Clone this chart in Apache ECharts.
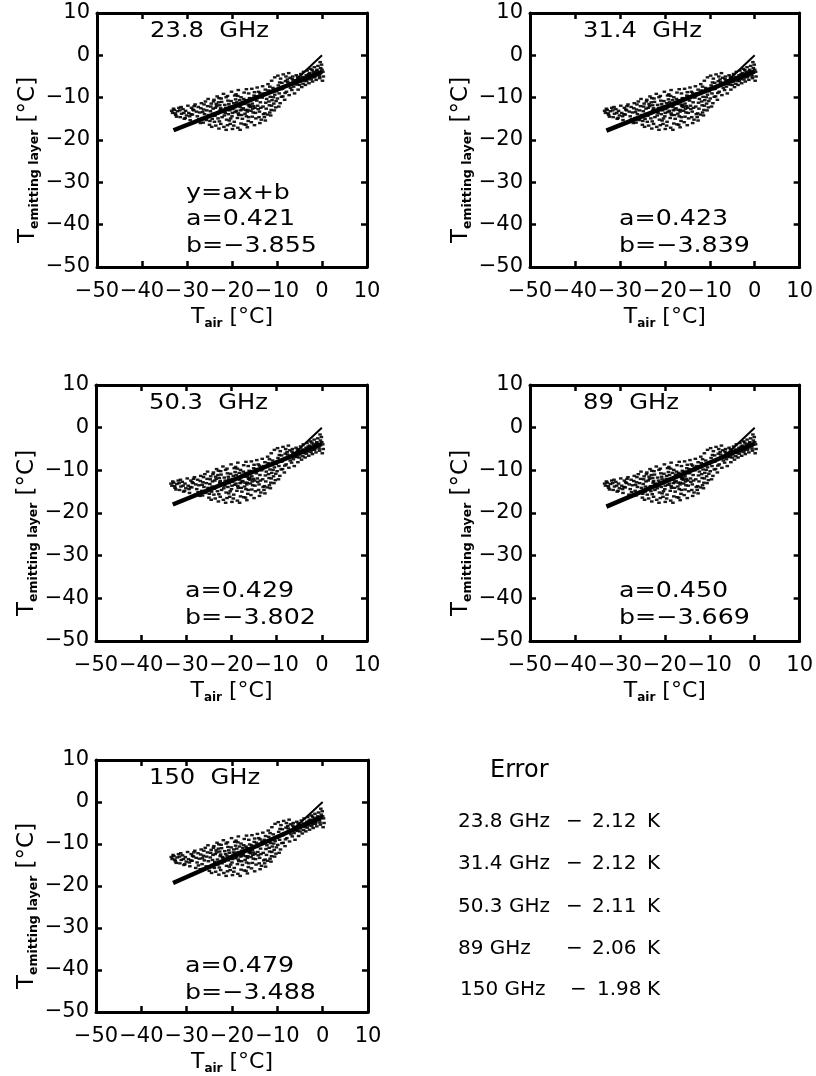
<!DOCTYPE html>
<html><head><meta charset="utf-8">
<script src="https://cdn.jsdelivr.net/npm/echarts@6/dist/echarts.min.js"></script>
<style>html,body{margin:0;padding:0;background:#fff}#c{width:816px;height:1076px}</style>
</head><body><div id="c"></div><script>
// ---------------- data ----------------
const freqs = ['23.8  GHz', '31.4  GHz', '50.3  GHz', '89  GHz', '150  GHz'];
const slopes = ['0.421', '0.423', '0.429', '0.450', '0.479'];
const intercepts = ['−3.855', '−3.839', '−3.802', '−3.669', '−3.488'];
const errorFreqs = ['23.8 GHz', '31.4 GHz', '50.3 GHz', '89 GHz', '150 GHz'];
const errorValues = ['2.12', '2.12', '2.11', '2.06', '1.98'];
const axisMin = -50, axisMax = 10, axisStep = 10;
const fitX = [-33, 0];
const fitY = [[-17.7, -3.9], [-17.8, -3.8], [-18.0, -3.8], [-18.5, -3.7], [-19.3, -3.5]];
const refX = [-6, 0];
const refY = [-6, 0];
// scatter cloud (T_air, T_emitting layer)
const cloud = [
[-33.2,-13.6],[-32.8,-12.9],[-32.5,-14.1],[-32.1,-13.2],[-31.8,-12.4],[-31.5,-14.6],[-31.2,-13.8],[-30.9,-12.7],[-30.6,-15.0],[-30.3,-13.1],[-30.1,-14.2],[-29.8,-11.9],
[-29.6,-13.6],[-29.3,-15.3],[-29.0,-12.4],[-28.8,-14.0],[-28.5,-13.0],[-28.2,-11.6],[-28.0,-15.7],[-27.7,-14.4],[-27.5,-12.2],[-27.2,-13.5],[-27.0,-16.0],[-26.8,-11.3],[-26.6,-14.8],[-26.3,-12.8],[-26.1,-13.9],[-25.9,-10.9],[-25.7,-15.3],[-25.4,-12.0],[-25.2,-14.1],[-25.0,-16.4],
[-24.8,-13.2],[-24.6,-11.4],[-24.4,-15.0],[-24.2,-12.6],[-24.0,-10.5],[-23.8,-14.3],[-23.6,-16.6],[-23.4,-12.0],[-23.2,-13.7],[-23.0,-11.1],[-22.8,-15.6],[-22.6,-12.9],[-22.4,-10.2],[-22.2,-14.6],[-22.0,-13.3],[-21.8,-16.9],[-21.6,-11.7],[-21.4,-12.4],[-21.2,-15.2],[-21.0,-9.6],[-20.8,-13.9],[-20.6,-12.1],[-20.4,-16.2],[-20.2,-10.8],[-20.0,-14.4],
[-19.8,-12.7],[-19.6,-11.3],[-19.5,-15.7],[-19.3,-13.4],[-19.1,-9.2],[-18.9,-12.0],[-18.7,-17.1],[-18.5,-14.1],[-18.3,-10.6],[-18.1,-13.0],[-17.9,-11.6],[-17.7,-15.0],[-17.5,-12.5],[-17.3,-8.8],[-17.1,-13.8],[-16.9,-16.4],[-16.7,-11.0],[-16.5,-12.9],[-16.3,-14.6],[-16.1,-10.1],[-15.9,-12.2],[-15.7,-15.8],[-15.5,-11.4],[-15.3,-13.5],[-15.1,-9.5],
[-19.7,-12.0],[-19.0,-13.1],[-18.4,-11.9],[-17.8,-12.8],[-17.2,-11.5],[-16.6,-13.3],[-16.0,-11.8],[-15.4,-12.6],[-20.5,-13.0],[-21.5,-13.6],[-22.5,-12.5],[-18.8,-14.8],[-17.4,-10.3],[-16.2,-12.0],
[-14.9,-12.4],[-14.7,-14.9],[-14.5,-10.7],[-14.3,-11.9],[-14.1,-8.6],[-13.9,-13.3],[-13.7,-11.1],[-13.5,-15.2],[-13.3,-10.0],[-13.1,-12.1],[-12.9,-9.0],[-12.7,-13.7],[-12.5,-11.2],[-12.3,-10.3],[-12.1,-14.0],[-11.9,-8.3],[-11.7,-11.8],[-11.5,-9.8],[-11.3,-12.9],[-11.1,-10.6],[-10.9,-7.7],[-10.7,-11.4],[-10.5,-9.3],[-10.3,-12.3],[-10.1,-8.5],
[-9.9,-10.2],[-9.7,-7.1],[-9.5,-9.0],[-9.3,-11.3],[-9.1,-8.0],[-8.9,-6.5],[-8.7,-9.7],[-8.5,-7.5],[-8.3,-10.5],[-8.1,-6.1],[-7.9,-8.6],[-7.7,-5.7],[-7.5,-7.0],[-7.3,-9.4],[-7.1,-5.3],[-6.9,-6.6],[-6.7,-8.2],[-6.5,-5.0],[-6.3,-7.4],[-6.1,-9.0],[-5.9,-5.9],[-5.7,-4.7],[-5.5,-6.9],[-5.3,-8.1],[-5.1,-5.4],
[-4.9,-6.3],[-4.7,-4.4],[-4.5,-7.5],[-4.3,-5.1],[-4.1,-3.9],[-3.9,-6.0],[-3.7,-7.0],[-3.5,-4.7],[-3.3,-3.6],[-3.1,-5.6],[-2.9,-6.6],[-2.7,-4.2],[-2.5,-3.2],[-2.3,-5.2],[-2.1,-6.2],[-1.9,-3.9],[-1.7,-2.8],[-1.5,-4.8],[-1.3,-5.8],[-1.1,-3.4],[-0.9,-2.5],[-0.7,-4.4],[-0.5,-5.4],[-0.3,-3.0],[-0.1,-2.2],[0.2,-3.9],[0.3,-5.0],
[-10.5,-5.2],[-9.8,-4.8],[-9.2,-5.5],[-8.6,-4.5],[-8.0,-5.0],[-7.4,-4.2],[-11.2,-6.0],[-12.0,-6.8],
[-24.5,-16.9],[-22.9,-17.3],[-21.3,-17.6],[-19.9,-17.4],[-18.2,-17.6],[-16.6,-17.0],[-15.0,-16.5],[-13.8,-16.0],[-12.6,-15.4],[-11.4,-14.2],
[-25.3,-10.3],[-23.3,-9.7],[-21.9,-9.1],[-20.1,-8.6],[-18.6,-8.2],[-16.8,-8.0],[-15.6,-7.9],[-14.4,-7.6],[-13.2,-7.3],
[-24.3,-13.8],[-23.7,-12.4],[-23.1,-14.9],[-22.7,-11.8],[-22.1,-13.1],[-21.7,-14.2],[-21.1,-12.8],[-20.7,-11.5],[-20.3,-14.9],[-19.9,-13.6],[-19.4,-12.3],[-18.95,-11.1],[-18.6,-13.7],[-18.2,-12.2],[-17.85,-14.1],[-17.6,-11.0],[-17.0,-12.9],[-16.8,-14.4],[-16.4,-11.6],[-15.8,-13.1],[-15.2,-12.0],[-14.8,-13.6],[-14.2,-12.7],[-13.6,-12.4],[-13.0,-13.9],[-12.4,-12.6],[-11.8,-10.9],[-11.2,-11.9],[-19.2,-10.4],[-18.0,-9.9],[-16.9,-10.6],[-15.7,-10.3],[-14.6,-9.7],[-13.4,-9.4],[-20.9,-10.7],[-22.3,-11.0],[-23.5,-11.5],[-24.7,-12.1],[-25.6,-13.0],[-26.9,-12.5],[-27.9,-13.3],[-28.7,-12.8],[-29.4,-14.4],[-30.7,-13.6],[-31.6,-13.0],[-32.3,-14.5],[-33.0,-12.6],
[-23.9,-15.7],[-22.5,-16.2],[-21.0,-16.5],[-19.6,-16.6],[-18.0,-16.1],[-16.4,-15.5],[-15.5,-14.5],[-14.0,-14.6],[-12.8,-14.6],[-11.6,-13.5],[-10.6,-13.0],[-9.6,-12.1],[-26.4,-15.9],[-24.9,-15.5],[-20.6,-15.4],[-17.3,-16.3],
[-26.2,-11.6],[-24.1,-10.9],[-22.9,-10.1],[-21.3,-9.9],[-19.4,-9.5],[-18.7,-9.6],[-16.3,-9.0],[-15.0,-8.7],[-13.8,-8.9],[-12.6,-8.1],[-11.6,-7.4],
[-9.4,-6.4],[-8.8,-7.9],[-8.2,-8.9],[-7.6,-6.3],[-7.0,-7.7],[-6.6,-5.6],[-6.0,-6.8],[-5.4,-5.1],[-4.8,-5.6],[-4.2,-6.7],[-3.6,-5.3],[-3.0,-4.4],[-2.4,-5.7],[-1.8,-4.5],[-1.2,-3.7],[-0.6,-4.9],[0.0,-3.4],[-9.0,-9.8],[-10.2,-10.8],[-10.8,-9.9],[-6.4,-6.0],[-5.0,-7.0],[-3.4,-6.1],[-1.6,-5.2],[0.1,-6.0],[-0.4,-1.6],[-2.2,-3.5],
[-33.4,-13.1],[-32.6,-13.7],[-31.3,-12.2],[-30.4,-14.8],[-29.1,-13.9],[-28.4,-12.0],[-27.4,-15.1],[-26.5,-13.4]
];

// ---------------- layout ----------------
const F = 'DejaVu Sans';
const panels = [
  {left: 97,  top: 13,  width: 270, height: 254, eq: true},
  {left: 530, top: 13,  width: 272, height: 254},
  {left: 96,  top: 385, width: 271, height: 256},
  {left: 530, top: 385, width: 272, height: 256},
  {left: 96,  top: 760, width: 272, height: 256}
];
const minus = v => String(v).replace('-', '−');
const grids = [], xAxes = [], yAxes = [], series = [], graphics = [];
const baseAxis = {
  min: axisMin, max: axisMax, interval: axisStep, splitLine: {show: false},
  axisLine: {show: true, onZero: false, lineStyle: {color: '#000', width: 3}},
  axisTick: {show: true, inside: true, length: 6, lineStyle: {color: '#000', width: 2.5}}
};
const nameRichX = {
  t: {fontSize: 22, fontFamily: F, color: '#000', lineHeight: 26, verticalAlign: 'middle'},
  s: {fontSize: 12, fontWeight: 'bold', fontFamily: F, color: '#000', lineHeight: 11, verticalAlign: 'bottom'}
};
const nameRichY = {
  t: {fontSize: 23, fontFamily: F, color: '#000', lineHeight: 26, verticalAlign: 'middle'},
  s: {fontSize: 12.5, fontWeight: 'bold', fontFamily: F, color: '#000', lineHeight: 11, verticalAlign: 'bottom'}
};
panels.forEach((p, i) => {
  grids.push({left: p.left, top: p.top, width: p.width, height: p.height, containLabel: false});
  xAxes.push(Object.assign({}, baseAxis, {
    type: 'value', gridIndex: i, position: 'bottom',
    axisLabel: {fontSize: 21, fontFamily: F, color: '#000', margin: 14, formatter: minus},
    name: '{t|T}{s|air}{t| [°C]}', nameLocation: 'middle', nameGap: 37,
    nameTextStyle: {rich: nameRichX}
  }));
  xAxes.push(Object.assign({}, baseAxis, {
    type: 'value', gridIndex: i, position: 'top', axisLabel: {show: false}
  }));
  yAxes.push(Object.assign({}, baseAxis, {
    type: 'value', gridIndex: i, position: 'left',
    axisLabel: {fontSize: 21, fontFamily: F, color: '#000', margin: 7, formatter: minus},
    name: '{t|T}{s|emitting layer}{t| [°C]}', nameLocation: 'middle', nameRotate: 90, nameGap: 56,
    nameTextStyle: {rich: nameRichY, padding: [0, 40, 0, 0]}
  }));
  yAxes.push(Object.assign({}, baseAxis, {
    type: 'value', gridIndex: i, position: 'right', axisLabel: {show: false}
  }));
  series.push({
    type: 'scatter', xAxisIndex: 2 * i, yAxisIndex: 2 * i, data: cloud,
    symbol: 'rect', symbolSize: [3.6, 2.4], itemStyle: {color: '#000', opacity: 0.9}, silent: true
  });
  series.push({
    type: 'line', xAxisIndex: 2 * i, yAxisIndex: 2 * i, showSymbol: false, symbol: 'none',
    data: fitX.map((x, k) => [x, fitY[i][k]]), lineStyle: {color: '#000', width: 4.5}
  });
  series.push({
    type: 'line', xAxisIndex: 2 * i, yAxisIndex: 2 * i, showSymbol: false, symbol: 'none',
    data: refX.map((x, k) => [x, refY[k]]), lineStyle: {color: '#000', width: 2}
  });
  const txt = (s, x, y, size, sx) => ({
    type: 'text', x: x, y: y, scaleX: sx, silent: true,
    style: {text: s, fontSize: size, fontFamily: F, fill: '#000', align: 'left', verticalAlign: 'middle'}
  });
  graphics.push(txt(freqs[i], p.left + 53, p.top + 18, 22, 1.1));
  if (p.eq) graphics.push(txt('y=ax+b', p.left + 89, p.top + 180, 22, 1.15));
  graphics.push(txt('a=' + slopes[i], p.left + 89, p.top + 206, 22, 1.15));
  graphics.push(txt('b=' + intercepts[i], p.left + 89, p.top + 233, 22, 1.15));
});
// Error block
const errTxt = (s, x, y, size) => ({
  type: 'text', x: x, y: y, silent: true,
  style: {text: s, fontSize: size, fontFamily: F, fill: '#000', align: 'left', verticalAlign: 'middle'}
});
graphics.push(errTxt('Error', 490, 771, 24));
const errRows = [822, 864, 907, 949, 990];
errorFreqs.forEach((f, i) => {
  graphics.push(errTxt(f, i === 4 ? 460 : 458, errRows[i], 20));
  graphics.push(errTxt('−', i === 4 ? 570 : 566, errRows[i], 20));
  graphics.push(errTxt(errorValues[i], i === 4 ? 597 : 592, errRows[i], 20));
  graphics.push(errTxt('K', 647, errRows[i], 20));
});

const chart = echarts.init(document.getElementById('c'), null, {renderer: 'canvas'});
chart.setOption({
  animation: false,
  backgroundColor: '#fff',
  textStyle: {fontFamily: F},
  grid: grids, xAxis: xAxes, yAxis: yAxes, series: series, graphic: graphics
});
</script></body></html>
